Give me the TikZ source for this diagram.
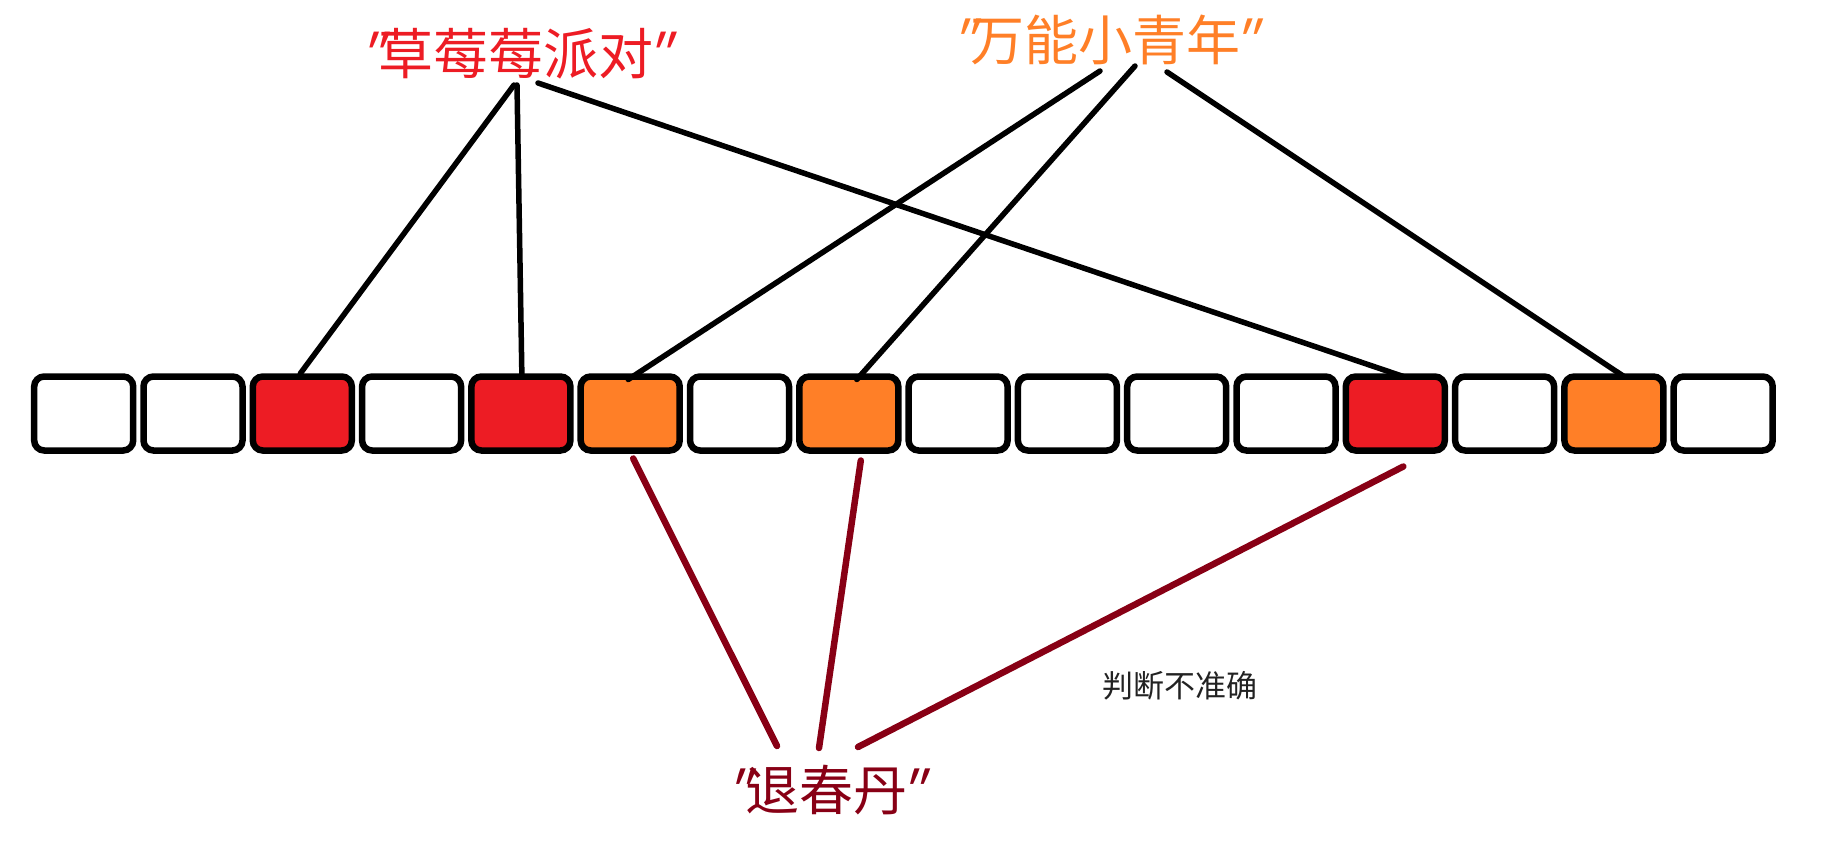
\documentclass[tikz,border=0pt]{standalone}
\usepackage{fontspec}
\newfontfamily\cjk{Noto Sans CJK SC}
\newfontfamily\cjkq[FakeSlant=0.35]{Noto Sans CJK SC}
\definecolor{pred}{HTML}{ED1C24}
\definecolor{porange}{HTML}{FF7F27}
\definecolor{pdark}{HTML}{880015}
\definecolor{pgray}{HTML}{222222}
\tikzset{
  cell/.style={draw=black, line width=6.5pt, rounded corners=10pt, minimum width=99pt, minimum height=74pt, inner sep=0pt, outer sep=0pt},
  lbl/.style={inner sep=0pt, font=\cjk},
  blk/.style={draw=black, line width=5.5pt, line cap=round},
  drk/.style={draw=pdark, line width=6.5pt, line cap=round}
}
\newcommand{\qo}{{\cjkq"}\kern-2pt}
\newcommand{\qc}{\kern-12pt{\cjkq"}}
\begin{document}
\begin{tikzpicture}[x=1pt,y=-1pt]
\useasboundingbox (0,0) rectangle (1822,845);
\foreach \i/\c in {1/white,2/white,3/pred,4/white,5/pred,6/porange,7/white,8/porange,9/white,10/white,11/white,12/white,13/pred,14/white,15/porange,16/white}{
  \node[cell, fill=\c] (b\i) at ({83.7+109.3*(\i-1)},413.5) {};
}
\node[lbl, text=pred, font=\cjk\fontsize{55}{60}\selectfont] (straw) at (511,54) {\qo 草莓莓派对\qc};
\node[lbl, text=porange, font=\cjk\fontsize{54}{60}\selectfont] (youth) at (1100,40) {\qo 万能小青年\qc};
\node[lbl, text=pdark, font=\cjk\fontsize{54}{60}\selectfont] (pill) at (821,790) {\qo 退春丹\qc};
\node[lbl, text=pgray, font=\cjk\fontsize{31}{36}\selectfont] (note) at (1180,686) {判断不准确};
\coordinate (s1) at (514,85);
\coordinate (s2) at (517,85);
\coordinate (s3) at (538,83);
\coordinate (y1) at (1100,71);
\coordinate (y2) at (1135,66);
\coordinate (y3) at (1167,72);
\coordinate (p1) at (777,746);
\coordinate (p2) at (819,748);
\coordinate (p3) at (858,747);
\draw[blk] (s1) -- ([xshift=-2pt,yshift=3pt]b3.north);
\draw[blk] (s2) -- ([xshift=1pt]b5.north);
\draw[blk] (s3) -- ([xshift=8pt]b13.north);
\draw[blk] (y1) -- ([xshift=-2pt,yshift=-3pt]b6.north);
\draw[blk] (y2) -- ([xshift=8pt,yshift=-3pt]b8.north);
\draw[blk] (y3) -- ([xshift=10pt]b15.north);
\draw[drk] ([xshift=3pt,yshift=-8pt]b6.south) -- (p1);
\draw[drk] ([xshift=12pt,yshift=-10pt]b8.south) -- (p2);
\draw[drk] ([xshift=8pt,yshift=-16pt]b13.south) -- (p3);
\end{tikzpicture}
\end{document}
